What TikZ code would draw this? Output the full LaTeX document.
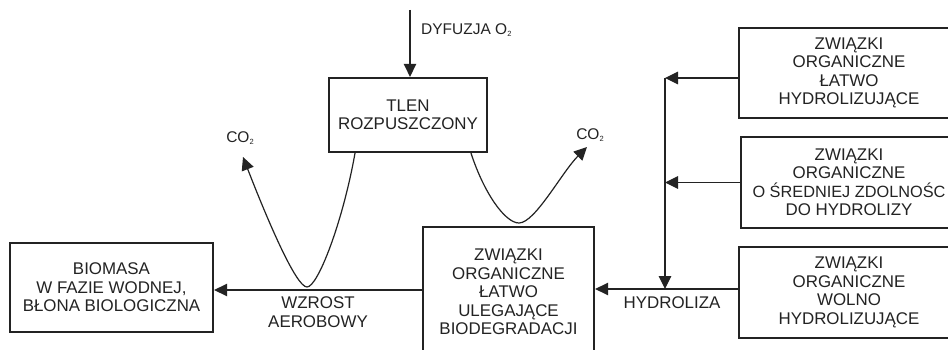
\documentclass[tikz,border=0pt]{standalone}
\usepackage{fontspec}
\setmainfont{Liberation Sans}
\usetikzlibrary{arrows.meta}
\definecolor{ink}{RGB}{35,35,35}
\begin{document}
\begin{tikzpicture}[x=1pt,y=-1pt,
  box/.style={draw=ink, line width=2.3pt, fill=white, inner sep=0pt, align=center, text=ink, font=\fontsize{16.9}{18.5}\selectfont},
  conn/.style={draw=ink, line width=1.2pt},
  arr/.style={conn, -{Triangle[length=13pt,width=12.5pt]}},
  lbl/.style={text=ink, inner sep=0pt, align=center, font=\fontsize{16.9}{18.5}\selectfont},
  small/.style={lbl, font=\fontsize{15.5}{16}\selectfont}]
\useasboundingbox (0,0) rectangle (948,350);
\fill[white] (0,0) rectangle (948,350);
% boxes
\node[box, minimum width=203pt, minimum height=89pt] (bio) at (111.5,287.5) {BIOMASA\\W FAZIE WODNEJ,\\BŁONA BIOLOGICZNA};
\node[box, minimum width=171pt, minimum height=130pt] (cen) at (508.5,292) {ZWIĄZKI\\ORGANICZNE\\ŁATWO\\ULEGAJĄCE\\BIODEGRADACJI};
\node[box, minimum width=158pt, minimum height=74pt] (tlen) at (408,115) {TLEN\\ROZPUSZCZONY};
\node[box, minimum width=220pt, minimum height=90pt] (rt1) at (849,73) {ZWIĄZKI\\ORGANICZNE\\ŁATWO\\HYDROLIZUJĄCE};
\node[box, minimum width=216pt, minimum height=91pt] (rt2) at (849,182.5) {ZWIĄZKI\\ORGANICZNE\\{\fontsize{16.3}{18.5}\selectfont O ŚREDNIEJ ZDOLNOŚC}\\DO HYDROLIZY};
\node[box, minimum width=220pt, minimum height=91pt] (rt3) at (849,292.5) {ZWIĄZKI\\ORGANICZNE\\WOLNO\\HYDROLIZUJĄCE};
% coordinates
\coordinate (dtop) at (410,10);
\coordinate (j1) at (665,78);
\coordinate (j3) at (665,289);
\coordinate (w) at (0,290);
\coordinate (co2l) at (243,157);
\coordinate (co2r) at (587,147);
% connectors
\draw[arr] (dtop) -- (dtop |- tlen.north);
\draw[arr] (rt1.west |- j1) -- (j1);
\draw[arr] (rt2.west) -- (rt2.west -| j1);
\draw[arr] (j1) -- (j3);
\draw[arr] (rt3.west |- j3) -- (cen.east |- j3);
\draw[arr] (cen.west |- w) -- (bio.east |- w);
\draw[arr] ([xshift=-53pt]tlen.south) .. controls (343,221) and (318,287) .. (307,287)
   .. controls (296,287) and (267.5,220) .. (co2l);
\draw[arr] ([xshift=63pt]tlen.south) .. controls (484,193) and (505,223) .. (519,223)
   .. controls (535,223) and (562,172) .. (co2r);
% labels
\node[lbl] (hyd) at (672,303) {HYDROLIZA};
\node[lbl] (wz) at (318,312) {WZROST\\AEROBOWY};
\node[small] (c1) at (240,138) {CO\raisebox{-2.5pt}{\fontsize{7.5}{8}\selectfont 2}};
\node[small] (c2) at (590,135) {CO\raisebox{-2.5pt}{\fontsize{7.5}{8}\selectfont 2}};
\node[lbl, anchor=west, font=\fontsize{15.5}{17}\selectfont] (dyf) at (421,30) {DYFUZJA O\raisebox{-2.5pt}{\fontsize{7.5}{8}\selectfont 2}};
\end{tikzpicture}
\end{document}
